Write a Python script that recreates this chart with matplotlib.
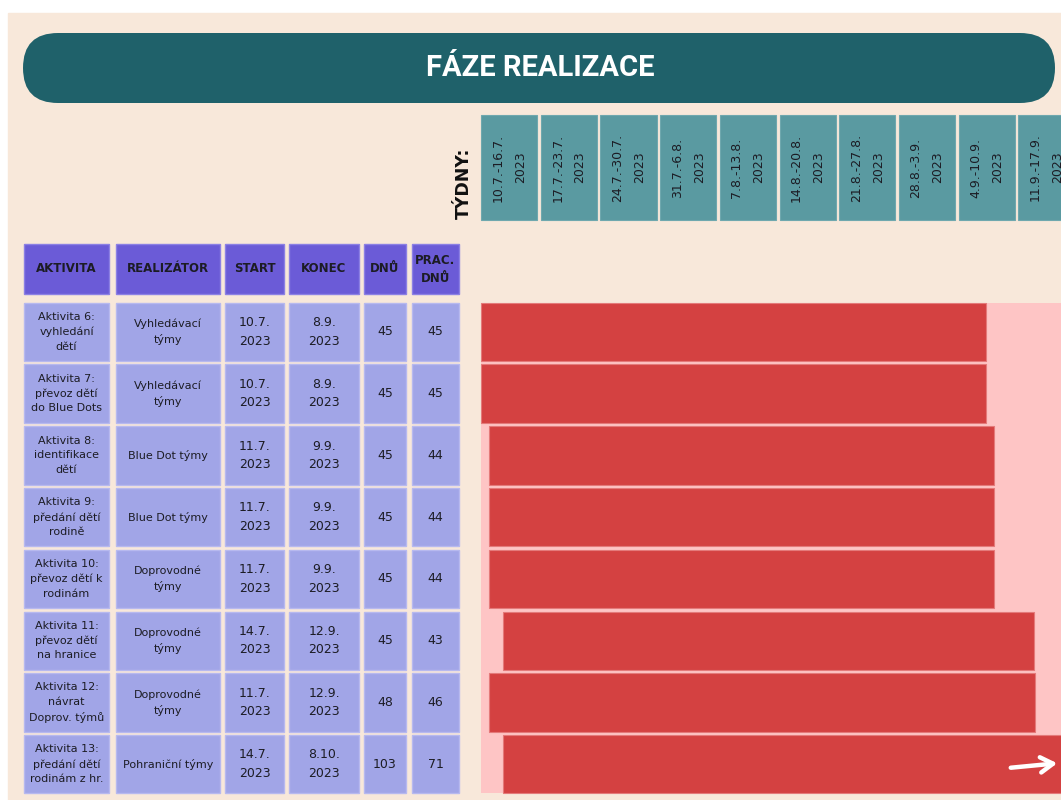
import matplotlib.pyplot as plt
from matplotlib.patches import Rectangle, FancyBboxPatch
from matplotlib.transforms import blended_transform_factory

# ---- data ----
title = "FÁZE REALIZACE"
weeks_label = "TÝDNY:"
weeks = ["10.7.-16.7.", "17.7.-23.7.", "24.7.-30.7.", "31.7.-6.8.", "7.8.-13.8.",
         "14.8.-20.8.", "21.8.-27.8.", "28.8.-3.9.", "4.9.-10.9.", "11.9.-17.9."]
week_year = "2023"
headers = ["AKTIVITA", "REALIZÁTOR", "START", "KONEC", "DNŮ", "PRAC.\nDNŮ"]
activities = ["Aktivita 6:\nvyhledání\ndětí", "Aktivita 7:\npřevoz dětí\ndo Blue Dots",
              "Aktivita 8:\nidentifikace\ndětí", "Aktivita 9:\npředání dětí\nrodině",
              "Aktivita 10:\npřevoz dětí k\nrodinám", "Aktivita 11:\npřevoz dětí\nna hranice",
              "Aktivita 12:\nnávrat\nDoprov. týmů", "Aktivita 13:\npředání dětí\nrodinám z hr."]
realizers = ["Vyhledávací\ntýmy", "Vyhledávací\ntýmy", "Blue Dot týmy", "Blue Dot týmy",
             "Doprovodné\ntýmy", "Doprovodné\ntýmy", "Doprovodné\ntýmy", "Pohraniční týmy"]
start_dates = ["10.7.\n2023", "10.7.\n2023", "11.7.\n2023", "11.7.\n2023",
               "11.7.\n2023", "14.7.\n2023", "11.7.\n2023", "14.7.\n2023"]
end_dates = ["8.9.\n2023", "8.9.\n2023", "9.9.\n2023", "9.9.\n2023",
             "9.9.\n2023", "12.9.\n2023", "12.9.\n2023", "8.10.\n2023"]
days = [45, 45, 45, 45, 45, 45, 48, 103]
work_days = [45, 45, 44, 44, 44, 43, 46, 71]
# bar positions in days counted from 10.7.
bar_start = [0, 0, 0.9, 0.9, 0.9, 2.6, 0.9, 2.6]
bar_end = [59.2, 59.2, 60.1, 60.1, 60.1, 64.8, 64.9, 90]

# ---- colours ----
beige = "#F8E8DA"
teal_dark = "#1F616A"
teal = "#5A9AA1"
purple = "#6B5BD7"
lavender = "#A1A5E7"
pink = "#FEC5C5"
red = "#D44141"
txt = "#1c1c24"

W, H = 1061, 800
fig = plt.figure(figsize=(W / 100, H / 100), dpi=100)
fig.patch.set_facecolor("white")

# full-figure axes in pixel units for the static layout
bg = fig.add_axes([0, 0, 1, 1])
bg.set_xlim(0, W)
bg.set_ylim(H, 0)
bg.axis("off")
bg.add_patch(Rectangle((8, 13), W - 8, H - 13, color=beige, zorder=0))

# title pill
bg.add_patch(FancyBboxPatch((23, 33), 1032, 70, boxstyle="round,pad=0,rounding_size=35",
                            fc=teal_dark, ec="none", zorder=1))
bg.text(540, 68, title, color="white", fontsize=21, fontweight="bold",
        family="Roboto", ha="center", va="center", zorder=2)

# gantt axes: x in days since 10.7.
gx0, gx1, gy0, gy1 = 481, 1061, 303, 793
row_top0, row_step, row_h = 302.7, 61.76, 58.3
gantt = fig.add_axes([gx0 / W, 1 - gy1 / H, (gx1 - gx0) / W, (gy1 - gy0) / H])
gantt.set_facecolor(pink)
gantt.set_xlim(0, (gx1 - gx0) / (59.7 / 7))
c0 = row_top0 + row_h / 2
gantt.set_ylim((gy1 - c0) / row_step, (gy0 - c0) / row_step)
widths = [e - s for s, e in zip(bar_start, bar_end)]
gantt.barh(range(len(activities)), widths, left=bar_start, height=row_h / row_step,
           color=red, edgecolor="#E47A7A", linewidth=0.8, clip_on=False)
for sp in gantt.spines.values():
    sp.set_visible(False)
gantt.set_xticks([])
gantt.set_yticks([])

# arrow on the last bar (drawn by the gantt axes so it sits on top of the bars)
gantt.annotate("", xy=(1060, 763), xytext=(1008, 768), xycoords=bg.transData,
               textcoords=bg.transData, annotation_clip=False,
               arrowprops=dict(arrowstyle="->,head_length=0.9,head_width=0.55",
                               color="white", lw=3.2, clip_on=False), zorder=5)

# week header boxes, x taken from the gantt scale
trans = blended_transform_factory(gantt.transData, bg.transData)
for i, wk in enumerate(weeks):
    bg.add_patch(Rectangle((7 * i, 115), 6.6, 105, transform=trans, fc=teal,
                           ec="#6FA8AE", lw=0.8, clip_on=False, zorder=2))
    bg.text(7 * i + 3.3, 167.5, wk + "\n" + week_year, transform=trans, rotation=90,
            ha="center", va="center", multialignment="center", fontsize=9,
            linespacing=1.9, color=txt, zorder=3)
bg.text(464, 219, weeks_label, rotation=90, ha="center", va="bottom",
        fontsize=12.5, fontweight="bold", color="#111111", zorder=3)

# table
cols = [(24, 109), (116, 220), (225, 284), (289, 359), (364, 406), (412, 459)]
for (x0, x1), h in zip(cols, headers):
    bg.add_patch(Rectangle((x0, 244), x1 - x0, 50, fc=purple, ec="#8C80E4", lw=1, zorder=2))
    bg.text((x0 + x1) / 2, 269, h, ha="center", va="center", fontsize=8.5,
            fontweight="bold", linespacing=1.5, color=txt, zorder=3)

for r in range(len(activities)):
    top = row_top0 + r * row_step
    cells = [activities[r], realizers[r], start_dates[r], end_dates[r],
             str(days[r]), str(work_days[r])]
    sizes = [8, 8, 9, 9, 9, 9]
    for (x0, x1), val, fs in zip(cols, cells, sizes):
        bg.add_patch(Rectangle((x0, top), x1 - x0, row_h, fc=lavender, ec="#B7B9EF",
                               lw=1, zorder=2))
        bg.text((x0 + x1) / 2, top + row_h / 2, val, ha="center", va="center",
                multialignment="center", fontsize=fs, linespacing=1.55,
                color=txt, zorder=3)

fig.savefig("out.png", dpi=100, facecolor=fig.get_facecolor())
